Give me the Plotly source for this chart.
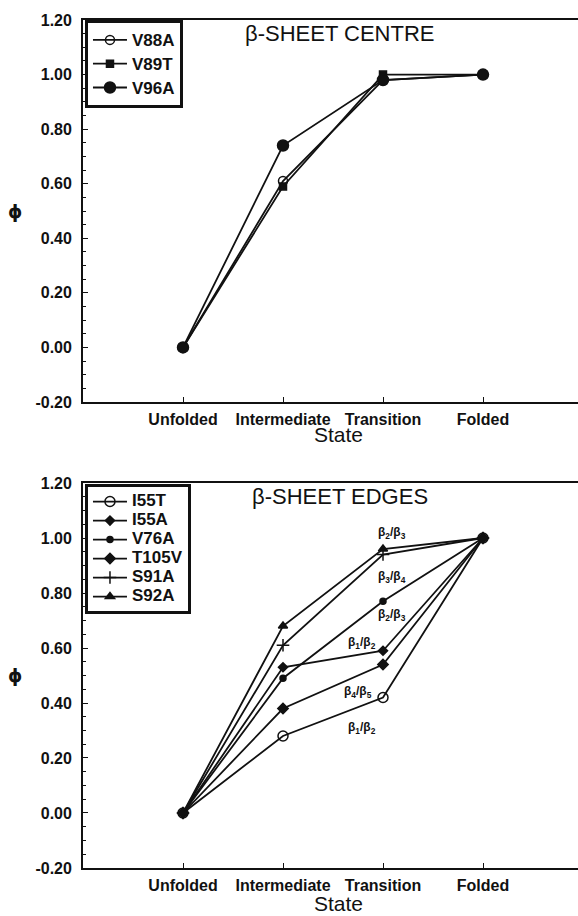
import plotly.graph_objects as go

# ---------------- data ----------------
states = ["Unfolded", "Intermediate", "Transition", "Folded"]

centre_names = ["V88A", "V89T", "V96A"]
v88a = [0.00, 0.61, 0.98, 1.00]
v89t = [0.00, 0.59, 1.00, 1.00]
v96a = [0.00, 0.74, 0.98, 1.00]

edge_names = ["I55T", "I55A", "V76A", "T105V", "S91A", "S92A"]
i55t = [0.00, 0.28, 0.42, 1.00]
i55a = [0.00, 0.53, 0.59, 1.00]
v76a = [0.00, 0.49, 0.77, 1.00]
t105v = [0.00, 0.38, 0.54, 1.00]
s91a = [0.00, 0.61, 0.94, 1.00]
s92a = [0.00, 0.68, 0.96, 1.00]

y_tickvals = [-0.2, 0.0, 0.2, 0.4, 0.6, 0.8, 1.0, 1.2]
y_ticktext = ["-0.20", "0.00", "0.20", "0.40", "0.60", "0.80", "1.00", "1.20"]

strand_labels = ["β<sub>2</sub>/β<sub>3</sub>", "β<sub>3</sub>/β<sub>4</sub>",
                 "β<sub>2</sub>/β<sub>3</sub>", "β<sub>1</sub>/β<sub>2</sub>",
                 "β<sub>4</sub>/β<sub>5</sub>", "β<sub>1</sub>/β<sub>2</sub>"]
# label anchor positions (x in category index units, y in phi units)
strand_label_x = [2.09, 2.09, 2.09, 1.79, 1.75, 1.79]
strand_label_y = [1.02, 0.86, 0.72, 0.62, 0.44, 0.31]

panel_titles = ["β-SHEET CENTRE", "β-SHEET EDGES"]
x_title = "State"
y_title = "ϕ"

# ---------------- styling ----------------
FONT = "Liberation Sans, Arial, Helvetica, sans-serif"
BLACK = "#111111"

fig = go.Figure()

centre_series = [v88a, v89t, v96a]
centre_symbols = ["circle-open", "square", "circle"]
centre_sizes = [9, 7, 11]
for name, vals, sym, sz in zip(centre_names, centre_series, centre_symbols, centre_sizes):
    fig.add_trace(go.Scatter(
        x=states, y=vals, name=f'<span style="font-size:17px">{name}</span>',
        mode="lines+markers", xaxis="x", yaxis="y", legend="legend",
        line=dict(color=BLACK, width=1.8),
        marker=dict(symbol=sym, size=sz, color=BLACK,
                    line=dict(color=BLACK, width=1.5)),
    ))

edge_series = [i55t, i55a, v76a, t105v, s91a, s92a]
edge_symbols = ["circle-open", "diamond", "circle", "diamond", "cross-thin-open", "triangle-up"]
edge_sizes = [10, 7, 6, 8, 9, 8]
for name, vals, sym, sz in zip(edge_names, edge_series, edge_symbols, edge_sizes):
    fig.add_trace(go.Scatter(
        x=states, y=vals, name=f'<span style="font-size:17px">{name}</span>',
        mode="lines+markers", xaxis="x2", yaxis="y2", legend="legend2",
        line=dict(color=BLACK, width=1.8),
        marker=dict(symbol=sym, size=sz, color=BLACK,
                    line=dict(color=BLACK, width=1.5)),
    ))

annotations = []
for txt, lx, ly in zip(strand_labels, strand_label_x, strand_label_y):
    annotations.append(dict(
        x=lx, y=ly, xref="x2", yref="y2", text=txt, showarrow=False,
        xanchor="center", yanchor="middle",
        font=dict(family=FONT, size=12, color=BLACK, weight="bold"),
    ))

for title, xr, yr in zip(panel_titles, ["x", "x2"], ["y", "y2"]):
    annotations.append(dict(
        x=1.57, y=1.15, xref=xr, yref=yr, text=title, showarrow=False,
        xanchor="center", yanchor="middle",
        font=dict(family=FONT, size=22, color=BLACK),
    ))

# y-axis symbol (upright) and x-axis titles
for yr, shift in zip(["y", "y2"], [-32, -35]):
    annotations.append(dict(
        x=-0.137, y=0.5, xref="paper", yref=f"{yr} domain", text=y_title,
        showarrow=False, xanchor="center", yanchor="middle",
        font=dict(family="DejaVu Sans, " + FONT, size=18, color=BLACK, weight="bold"),
    ))
    annotations.append(dict(
        x=1.55, y=0, xref="x" if yr == "y" else "x2", yref=f"{yr} domain",
        yshift=shift, text=x_title, showarrow=False,
        xanchor="center", yanchor="middle",
        font=dict(family=FONT, size=21, color=BLACK),
    ))

xaxis_common = dict(
    type="category", categoryorder="array", categoryarray=states,
    range=[-1, 3.95], showline=True, linecolor=BLACK, linewidth=1.5,
    mirror=True, ticks="inside", ticklen=5, tickwidth=1.2, tickcolor=BLACK,
    showgrid=False, zeroline=False, automargin=False,
    tickfont=dict(family=FONT, size=16, color=BLACK, weight="bold"),
    ticklabelstandoff=2,
)
yaxis_common = dict(
    range=[-0.2, 1.2], tickvals=y_tickvals, ticktext=y_ticktext,
    showline=True, linecolor=BLACK, linewidth=1.8, mirror=False,
    ticks="inside", ticklen=5, tickwidth=1.2, tickcolor=BLACK,
    minor=dict(ticks="inside", dtick=0.05, ticklen=3, tickwidth=1, tickcolor=BLACK),
    showgrid=False, zeroline=False, automargin=False,
    tickfont=dict(family=FONT, size=16, color=BLACK, weight="bold"),
    ticklabelstandoff=6,
)

legend_common = dict(
    xref="paper", yref="paper", xanchor="left", yanchor="top",
    bordercolor=BLACK, borderwidth=3, bgcolor="white",
    itemwidth=34, itemclick=False, tracegroupgap=0,
)

fig.update_layout(
    width=578, height=916,
    margin=dict(l=83, r=0, t=20, b=48, autoexpand=False),
    paper_bgcolor="white", plot_bgcolor="white",
    font=dict(family=FONT, color=BLACK),
    xaxis=dict(domain=[0, 1], anchor="y", **xaxis_common),
    yaxis=dict(domain=[0.5495, 1], anchor="x", **yaxis_common),
    xaxis2=dict(domain=[0, 1], anchor="y2", **xaxis_common),
    yaxis2=dict(domain=[0, 0.454], anchor="x2", **yaxis_common),
    legend=dict(x=0.004, y=1.0, font=dict(family=FONT, size=16, color=BLACK, weight="bold"),
                **legend_common),
    legend2=dict(x=0.004, y=0.4528, font=dict(family=FONT, size=12, color=BLACK, weight="bold"),
                 **legend_common),
    annotations=annotations,
    showlegend=True,
)

fig.write_html(
    "out.html",
    config={"displayModeBar": False},
    post_script="document.body.style.margin='0';document.body.style.padding='0';",
)
